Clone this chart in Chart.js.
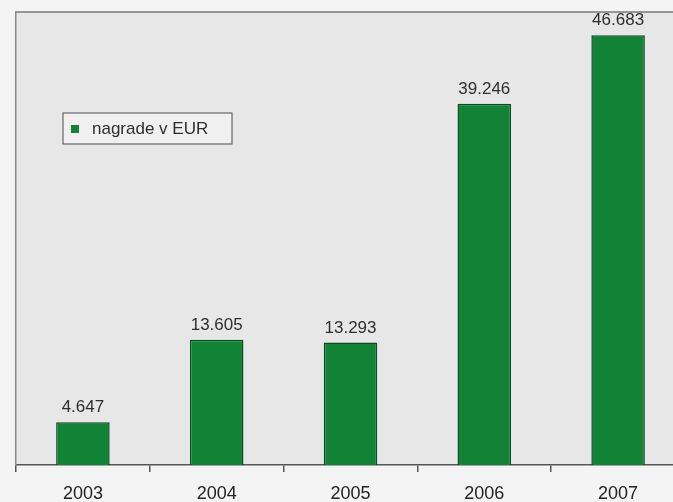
<!DOCTYPE html>
<html lang="sl">
<head>
    <meta charset="UTF-8">
    <title>Nagrade v EUR</title>
    <script src="https://cdn.jsdelivr.net/npm/chart.js"></script>
    <style>
        html, body { margin: 0; padding: 0; background: #f4f4f4; overflow: hidden; }
        #wrap { position: relative; width: 690px; height: 502px; }
    </style>
</head>
<body>
<div id="wrap"><canvas id="nagradeChart" width="690" height="502"></canvas></div>

<script>
    const years = ['2003', '2004', '2005', '2006', '2007'];
    const nagrade = [4647, 13605, 13293, 39246, 46683];
    const seriesLabel = 'nagrade v EUR';

    const FONT = '"Liberation Sans", Arial, sans-serif';
    const GREEN = '#128236';

    // 4647 -> "4.647"
    function fmt(v) {
        return String(v).replace(/\B(?=(\d{3})+(?!\d))/g, '.');
    }

    // grey plot area plus top frame line
    const frame = {
        id: 'frame',
        beforeDraw(chart) {
            const { ctx, chartArea: a } = chart;
            ctx.save();
            ctx.fillStyle = '#e7e7e7';
            ctx.fillRect(a.left, a.top, a.right - a.left, a.bottom - a.top);
            ctx.strokeStyle = '#7a7a7a';
            ctx.lineWidth = 1.5;
            ctx.beginPath();
            ctx.moveTo(a.left, a.top);
            ctx.lineTo(chart.width, a.top);
            ctx.stroke();
            ctx.restore();
        }
    };

    // value above each bar
    const barValues = {
        id: 'barValues',
        afterDatasetsDraw(chart) {
            const { ctx } = chart;
            const meta = chart.getDatasetMeta(0);
            ctx.save();
            ctx.font = '17px ' + FONT;
            ctx.fillStyle = '#2e2e2e';
            ctx.textAlign = 'center';
            ctx.textBaseline = 'alphabetic';
            meta.data.forEach((bar, i) => {
                ctx.fillText(fmt(chart.data.datasets[0].data[i]), bar.x, bar.y - 10);
            });
            ctx.restore();
        }
    };

    // boxed legend inside the plot
    const boxLegend = {
        id: 'boxLegend',
        afterDraw(chart) {
            const { ctx, chartArea: a } = chart;
            const ds = chart.data.datasets[0];
            const x = a.left + 47, y = a.top + 101, w = 169, h = 31;
            ctx.save();
            ctx.fillStyle = '#f0f0f0';
            ctx.fillRect(x, y, w, h);
            ctx.strokeStyle = '#666';
            ctx.lineWidth = 1.2;
            ctx.strokeRect(x, y, w, h);
            ctx.fillStyle = ds.backgroundColor;
            ctx.fillRect(x + 8, y + 12, 8, 8);
            ctx.fillStyle = '#2e2e2e';
            ctx.font = '17px ' + FONT;
            ctx.textBaseline = 'middle';
            ctx.fillText(ds.label, x + 29, y + h / 2 + 1);
            ctx.restore();
        }
    };

    new Chart(document.getElementById('nagradeChart'), {
        type: 'bar',
        data: {
            labels: years,
            datasets: [{
                label: seriesLabel,
                data: nagrade,
                backgroundColor: GREEN,
                borderColor: '#0b4d21',
                borderWidth: 1.5,
                barPercentage: 0.4,
                categoryPercentage: 1.0
            }]
        },
        options: {
            responsive: false,
            animation: false,
            layout: { padding: { left: 16, right: 5, top: 12, bottom: 0 } },
            plugins: {
                legend: { display: false },
                tooltip: { enabled: false }
            },
            scales: {
                x: {
                    offset: true,
                    grid: {
                        offset: true,
                        drawOnChartArea: false,
                        drawTicks: true,
                        tickLength: 7,
                        color: '#555',
                        lineWidth: 1.5
                    },
                    border: { display: true, color: '#555', width: 1.5 },
                    ticks: {
                        color: '#222',
                        font: { family: FONT, size: 18 },
                        padding: 11,
                        maxRotation: 0
                    },
                    afterFit(scale) { scale.height = 37; }
                },
                y: {
                    min: 0,
                    max: 49200,
                    grid: { display: false },
                    border: { display: true, color: '#8a8a8a', width: 1.5 },
                    ticks: { display: false },
                    afterFit(scale) { scale.width = 0; }
                }
            }
        },
        plugins: [frame, barValues, boxLegend]
    });
</script>
</body>
</html>
